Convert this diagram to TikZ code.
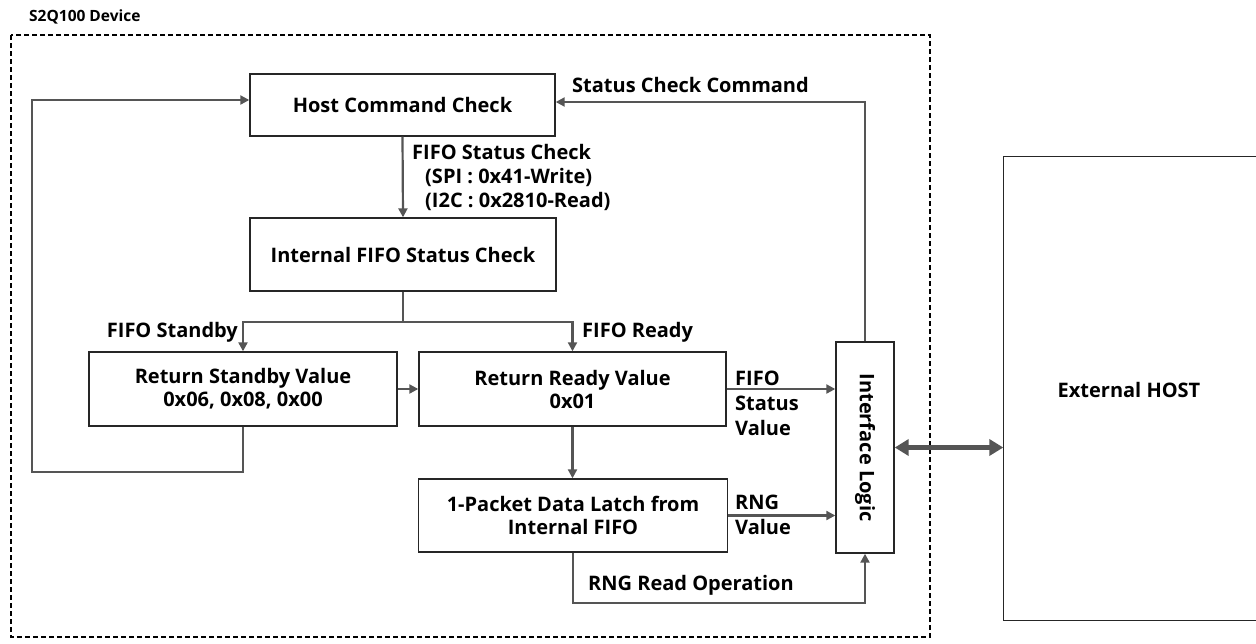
\documentclass[tikz,border=0pt]{standalone}
\usepackage{fontspec}
\setmainfont{Open Sans}
\usetikzlibrary{arrows.meta,calc}
\definecolor{conncol}{HTML}{555555}
\definecolor{boxcol}{HTML}{262626}
\tikzset{
  box/.style={draw=boxcol, line width=1.4pt, fill=white, inner sep=2pt, align=center,
    font=\fontsize{20}{23}\selectfont\bfseries},
  conn/.style={draw=conncol, line width=2.2pt, -{Triangle[length=9pt,width=9pt]}},
  plain/.style={draw=conncol, line width=2.2pt},
  lbl/.style={inner sep=0pt, align=left, font=\fontsize{20}{25}\selectfont\bfseries},
  thickarrow/.style={draw=conncol, line width=4.5pt, {Triangle[length=14pt,width=16pt]}-{Triangle[length=14pt,width=16pt]}},
}
\begin{document}
\begin{tikzpicture}[x=1pt,y=-1pt]
\useasboundingbox (0,0) rectangle (1256,643);
% device frame
\draw[black, line width=1.7pt, dash pattern=on 5pt off 3pt] (11,35) rectangle (930,637);
\node[lbl, anchor=west, font=\fontsize{15.5}{18}\selectfont\bfseries] (devlbl) at (29,17) {S2Q100 Device};

% boxes
\node[box, minimum width=305pt, minimum height=62pt] (host) at (402.5,105) {Host Command Check};
\node[box, minimum width=306pt, minimum height=73pt] (internal) at (403,254.5) {Internal FIFO Status Check};
\node[box, minimum width=308pt, minimum height=74pt] (standby) at (243,389) {Return Standby Value\\0x06, 0x08, 0x00};
\node[box, minimum width=307pt, minimum height=74pt] (ready) at (572.5,389) {Return Ready Value\\0x01};
\node[box, minimum width=309pt, minimum height=73pt] (packet) at (573,515.5) {1-Packet Data Latch from\\Internal FIFO};
\node[box, minimum width=58pt, minimum height=211pt] (iface) at (865,447.5) {};
\node[rotate=-90, font=\fontsize{20}{20}\selectfont\bfseries, inner sep=0pt] (ifacetxt) at (iface.center) {Interface Logic};
\node[box, draw=none, minimum width=320pt, minimum height=463pt] (ext) at (1164,388.5) {};
\draw[boxcol, line width=1.4pt] (ext.north east) -- (ext.north west) -- (ext.south west) -- (ext.south east);
\node[font=\fontsize{20}{23}\selectfont\bfseries, inner sep=0pt] (exttxt) at (1129,390) {External HOST};

% connectors
\draw[conn] (host.south) -- (internal.north);
\draw[plain] (internal.south) -- ++(0,30) coordinate (br);
\draw[conn] (br) -| (standby.north);
\draw[conn] (br) -| (ready.north);
\draw[conn] (standby.east) -- (ready.west);
\coordinate (lp) at (32,472);
\draw[conn] (standby.south) |- (lp) |- ([yshift=5pt]host.west);
\draw[conn] (iface.north) |- ([yshift=3pt]host.east);
\draw[conn] (ready.east) -- (ready.east -| iface.west);
\draw[conn] (ready.south) -- (ready.south |- packet.north);
\draw[conn] (packet.east) -- (packet.east -| iface.west);
\draw[conn] (packet.south) -- ++(0,50) -| (iface.south);
\draw[thickarrow] (iface.east) -- (iface.east -| ext.west);

% labels
\node[lbl, anchor=west] (l1) at (412,152) {FIFO Status Check};
\node[lbl, anchor=west] (l2) at (425,177) {(SPI : 0x41-Write)};
\node[lbl, anchor=west] (l2b) at (425,201) {(I2C : 0x2810-Read)};
\node[lbl, anchor=east] (l3) at (238,332) {FIFO Standby};
\node[lbl, anchor=west] (l4) at (582,332) {FIFO Ready};
\node[lbl, anchor=west] (l5) at (735,378) {FIFO};
\node[lbl, anchor=west] (l5b) at (735,403) {Status};
\node[lbl, anchor=west] (l5c) at (735,428) {Value};
\node[lbl, anchor=west] (l6) at (735,502) {RNG};
\node[lbl, anchor=west] (l6b) at (735,527) {Value};
\node[lbl, anchor=west] (l7) at (588,585) {RNG Read Operation};
\node[lbl, anchor=west] (l8) at (572,85) {Status Check Command};
\end{tikzpicture}
\end{document}
